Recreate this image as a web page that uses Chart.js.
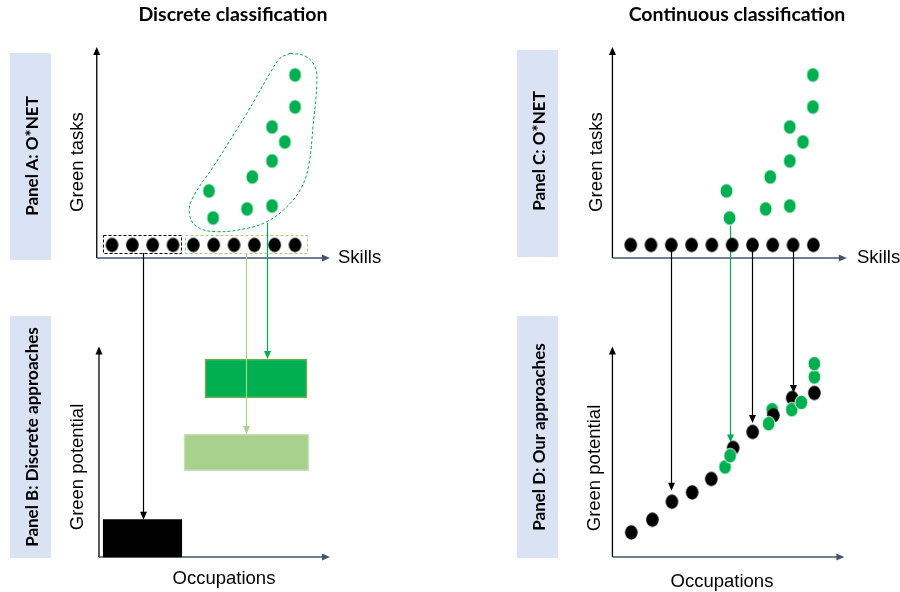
<!DOCTYPE html>
<html>
<head>
<meta charset="utf-8">
<script src="https://cdn.jsdelivr.net/npm/chart.js@4.4.1/dist/chart.umd.min.js"></script>
<style>
    body { margin: 0; background: #fff; }
    #fig { position: relative; width: 900px; height: 592px; overflow: hidden; font-family: "Liberation Sans", Arial, sans-serif; }
    #fig canvas { position: absolute; top: 0; }
    .t { position: absolute; white-space: nowrap; line-height: 1; transform: translate(-50%, -50%); }
    .rot { transform: translate(-50%, -50%) rotate(-90deg); }
    .title { font-family: Lato, sans-serif; font-weight: 700; font-size: 19.5px; }
    .panel { position: absolute; background: #dae3f3; }
    .plab { font-family: Lato, sans-serif; font-weight: 700; font-size: 17px; }
    .ax { font-size: 18.5px; }
    .lft { transform: translate(0, -50%); }
</style>
</head>
<body>
<div id="fig">
    <canvas id="leftChart" width="450" height="592" style="left:0"></canvas>
    <canvas id="rightChart" width="450" height="592" style="left:450px"></canvas>

    <div class="t title" style="left:233px;top:14px">Discrete classification</div>
    <div class="t title" style="left:737px;top:14px">Continuous classification</div>

    <div class="panel" style="left:10px;top:53px;width:41px;height:207px"></div>
    <div class="panel" style="left:10px;top:316px;width:41px;height:242px"></div>
    <div class="panel" style="left:517px;top:50px;width:41px;height:207px"></div>
    <div class="panel" style="left:517px;top:316px;width:41px;height:242px"></div>
    <div class="t rot plab" style="left:31px;top:156px">Panel A: O*NET</div>
    <div class="t rot plab" style="left:31px;top:437px">Panel B: Discrete approaches</div>
    <div class="t rot plab" style="left:538px;top:151px">Panel C: O*NET</div>
    <div class="t rot plab" style="left:538px;top:437px">Panel D: Our approaches</div>

    <div class="t rot ax" style="left:77px;top:162px">Green tasks</div>
    <div class="t rot ax" style="left:596px;top:162px">Green tasks</div>
    <div class="t rot ax" style="left:77px;top:467px">Green potential</div>
    <div class="t rot ax" style="left:594px;top:468px">Green potential</div>
    <div class="t ax lft" style="left:338px;top:257px">Skills</div>
    <div class="t ax lft" style="left:857px;top:257px">Skills</div>
    <div class="t ax" style="left:224px;top:578px">Occupations</div>
    <div class="t ax" style="left:722px;top:581px">Occupations</div>
</div>
<script>
"use strict";

// Panels A and C: every occupation sits on the skills axis
const skillIndex = [1, 2, 3, 4, 5, 6, 7, 8, 9, 10];
const skillTasks = [1.3, 1.3, 1.3, 1.3, 1.3, 1.3, 1.3, 1.3, 1.3, 1.3];

// green tasks attached to some skills
const greenSkillA = [10, 10, 8.87, 9.5, 8.87, 7.9, 5.77, 5.97, 7.64, 8.87];
const greenTasksA = [18.3, 15.1, 13.1, 11.6, 9.7, 8.1, 6.7, 4.0, 4.9, 5.2];
const greenSkillC = [9.98, 9.98, 8.84, 9.49, 8.84, 7.88, 5.72, 5.87, 7.65, 8.84];
const greenTasksC = [18.3, 15.1, 13.1, 11.6, 9.7, 8.1, 6.7, 4.0, 4.9, 5.2];

// dashed outline round the green tasks (panel A)
const blobSkill = [9.76, 10.49, 10.98, 11.07, 10.9, 10.66, 10.25, 9.43, 8.61, 7.63, 6.15, 5.17, 4.8, 5.0, 5.98, 7.63, 8.77, 9.26, 9.76];
const blobTasks = [20.47, 20.2, 19.13, 17.47, 13.47, 9.13, 6.8, 4.8, 3.63, 2.97, 2.63, 3.13, 4.47, 6.13, 9.13, 14.47, 18.47, 19.97, 20.47];

// dashed groups of skills (panel A): non-green, green
const groupSkillStart = [0.57, 4.59];
const groupSkillEnd = [4.43, 10.6];
const groupTasksLow = [0.5, 0.5];
const groupTasksHigh = [2.3, 2.3];

// Panel B: discrete green potential (black, light green, dark green)
const barOccStart = [0.57, 4.54, 5.57];
const barOccEnd = [4.43, 10.67, 10.59];
const barPotLow = [0, 8.63, 15.9];
const barPotHigh = [3.73, 12.3, 19.8];

// Panel D: continuous green potential
const occBlack = [1.03, 2.07, 3.03, 4.03, 4.97, 6.05, 7.01, 8.03, 8.96, 10.05];
const potBlack = [2.46, 3.73, 5.53, 6.46, 7.8, 10.9, 12.5, 14.16, 15.9, 16.4];
const occGreen = [5.65, 5.9, 7.8, 7.97, 8.94, 9.41, 10.05, 10.05];
const potGreen = [9.0, 10.13, 13.33, 14.73, 14.73, 15.46, 18.0, 19.33];
// the green dot hidden behind a black one in panel D
const greenBehindIndex = 3;

// Arrows from the top panels to the bottom ones
const arrowSkillL = [2.51, 7.59, 8.61];
const arrowFromL = [0.5, 0.5, 3.5];
const arrowToL = [3.73, 12.3, 19.8];
const arrowSkillR = [3, 5.89, 7, 9];
const arrowFromR = [1.3, 4.0, 1.3, 1.3];
const arrowToR = [6.63, 11.46, 13.4, 16.4];

const GREEN = '#00b050';
const LIGHT_GREEN = '#a9d18e';
const AXIS_X = '#44546a';

/**
 * Ellipse used as point style (the dots are a bit taller than wide)
 */
function makeDot(color, rx, ry, stroke) {
    const c = document.createElement('canvas');
    c.width = Math.ceil(rx * 2 + 2);
    c.height = Math.ceil(ry * 2 + 2);
    const ctx = c.getContext('2d');
    ctx.beginPath();
    ctx.ellipse(c.width / 2, c.height / 2, rx, ry, 0, 0, Math.PI * 2);
    ctx.fillStyle = color;
    ctx.fill();
    if (stroke) {
        ctx.strokeStyle = stroke;
        ctx.lineWidth = 1;
        ctx.stroke();
    }
    return c;
}

const blackDot = makeDot('#000', 6.3, 7.2);
const greenDot = makeDot(GREEN, 6.4, 7.3, '#ffffff');

function toPoints(xs, ys) {
    return xs.map((x, i) => ({ x: x, y: ys[i] }));
}

function arrowHead(ctx, x, y, dir, color) {
    ctx.fillStyle = color;
    ctx.beginPath();
    if (dir === 'down') {
        ctx.moveTo(x, y);
        ctx.lineTo(x - 3.5, y - 8);
        ctx.lineTo(x + 3.5, y - 8);
    } else if (dir === 'up') {
        ctx.moveTo(x, y);
        ctx.lineTo(x - 3.5, y + 8);
        ctx.lineTo(x + 3.5, y + 8);
    } else {
        ctx.moveTo(x, y);
        ctx.lineTo(x - 8, y - 3.5);
        ctx.lineTo(x - 8, y + 3.5);
    }
    ctx.closePath();
    ctx.fill();
}

function drawArrows(chart, opts) {
    const ctx = chart.ctx;
    const x = chart.scales.x;
    const yTop = chart.scales.yTop;
    const yBottom = chart.scales.yBottom;
    ctx.save();
    opts.arrows.skill.forEach((s, i) => {
        const px = Math.round(x.getPixelForValue(s)) + 0.5;
        const y0 = yTop.getPixelForValue(opts.arrows.from[i]);
        const y1 = yBottom.getPixelForValue(opts.arrows.to[i]);
        const color = opts.arrows.colors[i];
        ctx.strokeStyle = color;
        ctx.lineWidth = 1.2;
        ctx.beginPath();
        ctx.moveTo(px, y0);
        ctx.lineTo(px, y1 - 6);
        ctx.stroke();
        arrowHead(ctx, px, y1, 'down', color);
    });
    ctx.restore();
}

const diagramPlugin = {
    id: 'diagram',
    beforeDatasetsDraw(chart, args, opts) {
        const ctx = chart.ctx;
        const x = chart.scales.x;
        ctx.save();

        // axes of both panels
        opts.axes.forEach(axis => {
            const y = chart.scales[axis.scale];
            const ox = x.getPixelForValue(axis.origin);
            const oy = y.getPixelForValue(0);
            const ty = y.getPixelForValue(axis.top);
            const tx = x.getPixelForValue(axis.tip);
            ctx.lineWidth = 1.3;
            ctx.strokeStyle = '#000';
            ctx.beginPath();
            ctx.moveTo(ox, oy);
            ctx.lineTo(ox, ty + 6);
            ctx.stroke();
            arrowHead(ctx, ox, ty, 'up', '#000');
            ctx.strokeStyle = AXIS_X;
            ctx.beginPath();
            ctx.moveTo(ox, oy);
            ctx.lineTo(tx - 6, oy);
            ctx.stroke();
            arrowHead(ctx, tx, oy, 'right', AXIS_X);
        });

        // dashed groups of skills
        if (opts.groups) {
            const yTop = chart.scales.yTop;
            ctx.lineWidth = 1;
            ctx.setLineDash([3, 2]);
            groupSkillStart.forEach((s, i) => {
                const x0 = x.getPixelForValue(s);
                const x1 = x.getPixelForValue(groupSkillEnd[i]);
                const y0 = yTop.getPixelForValue(groupTasksHigh[i]);
                const y1 = yTop.getPixelForValue(groupTasksLow[i]);
                ctx.strokeStyle = opts.groups[i];
                ctx.strokeRect(Math.round(x0) + 0.5, Math.round(y0) + 0.5, Math.round(x1 - x0), Math.round(y1 - y0));
            });
            ctx.setLineDash([]);
        }
        ctx.restore();

        if (opts.arrowsBehind) drawArrows(chart, opts);
    },
    afterDatasetsDraw(chart, args, opts) {
        if (!opts.arrowsBehind) drawArrows(chart, opts);
    }
};

/**
 * Floating bar whose width follows the occupations scale
 */
function occupationBar(i, fill, border) {
    return {
        type: 'bar',
        yAxisID: 'yBottom',
        data: [{ x: (barOccStart[i] + barOccEnd[i]) / 2, y: [barPotLow[i], barPotHigh[i]] }],
        grouped: false,
        barThickness: (ctx) => {
            const s = ctx.chart.scales.x;
            return s.getPixelForValue(barOccEnd[i]) - s.getPixelForValue(barOccStart[i]);
        },
        backgroundColor: fill,
        borderColor: border,
        borderWidth: border ? 1.5 : 0,
        borderSkipped: false,
        clip: false
    };
}

function columnOptions(xMin, xMax, padding, plugin) {
    return {
        responsive: false,
        animation: false,
        events: [],
        layout: { padding: padding },
        scales: {
            x: { type: 'linear', display: false, offset: false, min: xMin, max: xMax },
            yTop: { type: 'linear', display: false, position: 'left', stack: 'col', stackWeight: 218, weight: 2, min: 0, max: 21.8 },
            yBottom: { type: 'linear', display: false, position: 'left', stack: 'col', stackWeight: 302, weight: 1, min: -0.3, max: 29.9 }
        },
        plugins: {
            legend: { display: false },
            tooltip: { enabled: false },
            diagram: plugin
        }
    };
}

// Left column: panels A and B
new Chart(document.getElementById('leftChart'), {
    type: 'scatter',
    data: {
        datasets: [
            occupationBar(0, '#000000', null),
            occupationBar(1, LIGHT_GREEN, '#c5e0b4'),
            occupationBar(2, GREEN, '#70ad47'),
            {
                data: toPoints(greenSkillA, greenTasksA),
                yAxisID: 'yTop',
                pointStyle: greenDot,
                clip: false
            },
            {
                data: toPoints(skillIndex, skillTasks),
                yAxisID: 'yTop',
                pointStyle: blackDot,
                clip: false
            },
            {
                data: toPoints(blobSkill, blobTasks),
                yAxisID: 'yTop',
                showLine: true,
                tension: 0.4,
                borderColor: GREEN,
                borderWidth: 1,
                borderDash: [3, 2],
                pointRadius: 0,
                fill: false,
                clip: false
            }
        ]
    },
    options: columnOptions(0.25, 11.75, { left: 96.75, right: 119.4, top: 40, bottom: 32 }, {
        axes: [
            { scale: 'yTop', origin: 0.25, top: 21.1, tip: 11.72 },
            { scale: 'yBottom', origin: 0.36, top: 21.06, tip: 11.72 }
        ],
        groups: ['#000000', LIGHT_GREEN],
        arrowsBehind: false,
        arrows: { skill: arrowSkillL, from: arrowFromL, to: arrowToL, colors: ['#000000', LIGHT_GREEN, GREEN] }
    }),
    plugins: [diagramPlugin]
});

const greenDPoints = toPoints(occGreen, potGreen);

// Right column: panels C and D (Chart.js paints the first dataset on top)
new Chart(document.getElementById('rightChart'), {
    type: 'scatter',
    data: {
        datasets: [
            {
                data: toPoints(skillIndex, skillTasks),
                yAxisID: 'yTop',
                pointStyle: blackDot,
                clip: false
            },
            {
                data: toPoints(greenSkillC, greenTasksC),
                yAxisID: 'yTop',
                pointStyle: greenDot,
                clip: false
            },
            {
                data: greenDPoints.filter((p, i) => i !== greenBehindIndex),
                yAxisID: 'yBottom',
                pointStyle: greenDot,
                clip: false
            },
            {
                data: toPoints(occBlack, potBlack),
                yAxisID: 'yBottom',
                pointStyle: blackDot,
                clip: false
            },
            {
                data: greenDPoints.filter((p, i) => i === greenBehindIndex),
                yAxisID: 'yBottom',
                pointStyle: greenDot,
                clip: false
            }
        ]
    },
    options: columnOptions(0.1, 11.65, { left: 162.43, right: 53.2, top: 40, bottom: 32 }, {
        axes: [
            { scale: 'yTop', origin: 0.1, top: 21.1, tip: 11.65 },
            { scale: 'yBottom', origin: 0.1, top: 21.06, tip: 11.53 }
        ],
        groups: null,
        arrowsBehind: true,
        arrows: { skill: arrowSkillR, from: arrowFromR, to: arrowToR, colors: ['#000000', GREEN, '#000000', '#000000'] }
    }),
    plugins: [diagramPlugin]
});
</script>
</body>
</html>
